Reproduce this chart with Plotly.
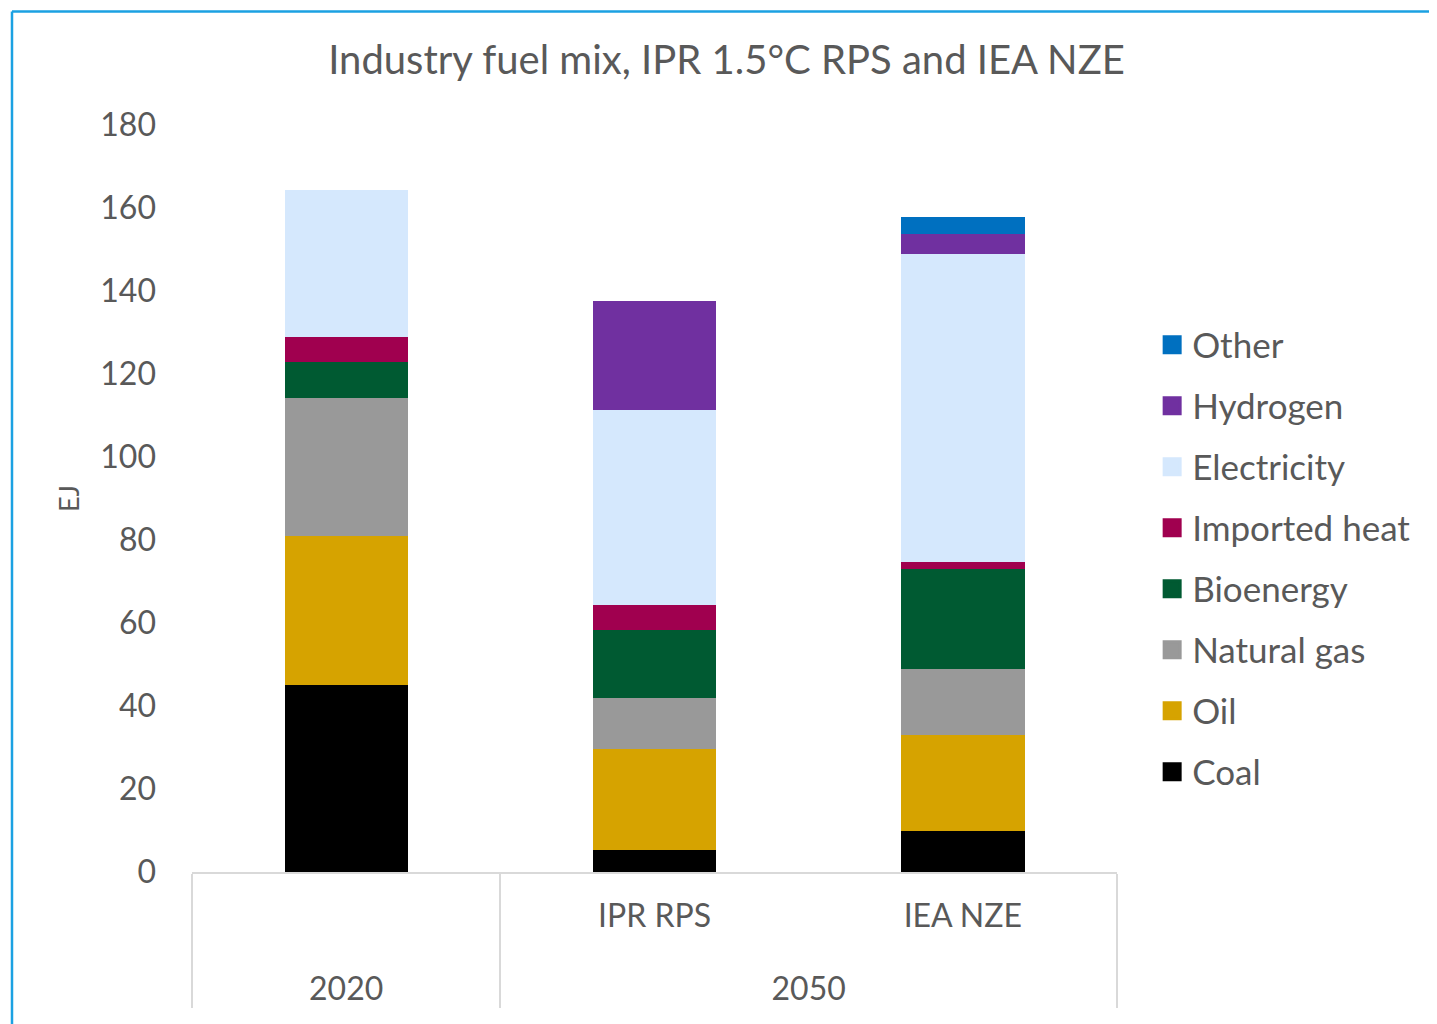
import plotly.graph_objects as go

# Data
outer = ["2020", "2050", "2050"]
inner = ["", "IPR RPS", "IEA NZE"]
series_names = ["Coal", "Oil", "Natural gas", "Bioenergy", "Imported heat", "Electricity", "Hydrogen", "Other"]
coal = [45.0, 5.3, 9.9]
oil = [36.0, 24.3, 23.1]
natural_gas = [33.2, 12.3, 15.9]
bioenergy = [8.7, 16.4, 24.1]
imported_heat = [6.0, 6.0, 1.7]
electricity = [35.4, 47.0, 74.2]
hydrogen = [0.0, 26.3, 4.8]
other = [0.0, 0.0, 4.1]
y_ticks = [0, 20, 40, 60, 80, 100, 120, 140, 160, 180]

series_values = [coal, oil, natural_gas, bioenergy, imported_heat, electricity, hydrogen, other]
colors = ["#000000", "#D6A300", "#999999", "#005A32", "#A0004F", "#D5E8FD", "#7030A0", "#0070C0"]

FONT = "Lato"
TXT = "#595959"

inner_lbl = [s + "<br><sub> </sub>" for s in inner]

fig = go.Figure()
for name, vals, col in zip(series_names, series_values, colors):
    fig.add_trace(go.Bar(
        x=[outer, inner_lbl], y=vals, name=name, marker=dict(color=col, line=dict(width=0)),
        showlegend=False, legendgroup=name,
    ))
# legend entries, top to bottom: Other ... Coal
for name, col in reversed(list(zip(series_names, colors))):
    fig.add_trace(go.Scatter(
        x=[[None], [None]], y=[None], mode="markers", name=name, legendgroup=name,
        marker=dict(symbol="square", size=16, color=col, line=dict(color=col, width=3)),
        showlegend=True,
    ))

fig.update_layout(
    width=1437, height=1024,
    barmode="stack", bargap=0.6,
    paper_bgcolor="white", plot_bgcolor="white",
    margin=dict(l=184, r=328, t=117, b=160),
    font=dict(family=FONT, color=TXT, size=32),
    title=dict(text="Industry fuel mix, IPR 1.5°C RPS and IEA NZE", x=0.5, xref="container",
               xanchor="center", y=1 - 52 / 1024, yanchor="middle", yref="container",
               font=dict(family=FONT, size=40, color=TXT)),
    legend=dict(x=1.038, xanchor="left", y=0.745, yanchor="top", traceorder="grouped",
                font=dict(family=FONT, size=35, color=TXT), tracegroupgap=12.5,
                itemwidth=30, bgcolor="rgba(0,0,0,0)"),
    xaxis=dict(type="multicategory", showline=True, linecolor="#D9D9D9", linewidth=2,
               showdividers=True, dividercolor="#D9D9D9", dividerwidth=2,
               ticklabelstandoff=15,
               tickfont=dict(family=FONT, size=32, color=TXT), showgrid=False, zeroline=False),
    yaxis=dict(range=[0, 180], tickvals=y_ticks, showgrid=False, zeroline=False, showline=False,
               tickfont=dict(family=FONT, size=32, color=TXT), ticklabelstandoff=35,
               title=dict(text="EJ", font=dict(family=FONT, size=27, color=TXT), standoff=12)),
    shapes=[
        dict(type="line", xref="paper", yref="paper", x0=-0.1946, x1=-0.1946, y0=-0.5, y1=1.152,
             line=dict(color="#1BA1E2", width=2.5)),
        dict(type="line", xref="paper", yref="paper", x0=-0.1946, x1=1.6, y0=1.152, y1=1.152,
             line=dict(color="#1BA1E2", width=2.5)),
    ],
)

fig.write_html("out.html")
